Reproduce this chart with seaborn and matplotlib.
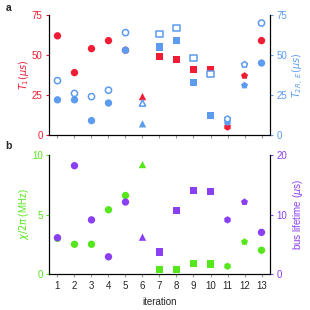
import numpy as np
import pandas as pd
import matplotlib
matplotlib.use("Agg")
import matplotlib.pyplot as plt
import seaborn as sns

iterations = list(range(1, 14))
shapes = ['o', 'o', 'o', 'o', 'o', '^', 's', 's', 's', 's', 'h', 'p', 'o']

t1 = [62, 39, 54, 59, 53, 24, 49, 47, 41, 41, 5, 37, 59]
t2r = [22, 22, 9, 20, 53, 7, 55, 59, 33, 12, 8, 31, 45]
t2e = [34, 26, 24, 28, 64, 20, 63, 67, 48, 38, 10, 44, 70]

chi = [3.0, 2.5, 2.5, 5.4, 6.6, 9.2, 0.4, 0.4, 0.9, 0.85, 0.65, 2.7, 2.0]
bus = [6.1, 18.2, 9.1, 2.9, 12.1, 6.2, 3.7, 10.7, 14.0, 13.9, 9.1, 12.1, 7.0]

RED = '#f01c34'
BLUE = '#5c9bef'
GREEN = '#55e61c'
PURPLE = '#8b3ff2'

df = pd.DataFrame({'iteration': iterations, 'shape': shapes,
                   't1': t1, 't2r': t2r, 't2e': t2e, 'chi': chi, 'bus': bus})
marker_map = {m: m for m in set(shapes)}

sns.set_style('white')
plt.rcParams['font.family'] = ['Liberation Sans', 'DejaVu Sans']
plt.rcParams['mathtext.fontset'] = 'dejavusans'
plt.rcParams['font.size'] = 7

fig = plt.figure(figsize=(3.1, 3.1), dpi=100)
ax1 = fig.add_axes([0.158, 0.5645, 0.713, 0.387])
ax2 = fig.add_axes([0.158, 0.116, 0.713, 0.384])


def style_axes(ax, axr, lcol, rcol, ylim_l, ylim_r, lticks, rticks):
    ax.set_xlim(0.5, 13.5)
    ax.set_ylim(*ylim_l)
    axr.set_ylim(*ylim_r)
    ax.set_xticks(iterations)
    ax.set_yticks(lticks)
    axr.set_yticks(rticks)
    for a in (ax, axr):
        a.spines['top'].set_visible(False)
        for s in ('left', 'right', 'bottom'):
            a.spines[s].set_color('black')
            a.spines[s].set_linewidth(0.8)
    ax.tick_params(axis='y', colors=lcol, length=2.5, width=0.8, direction='out', left=True, pad=2)
    axr.tick_params(axis='y', colors=rcol, length=2.5, width=0.8, direction='out', right=True, pad=2)
    ax.tick_params(axis='x', length=2.5, width=0.8, bottom=True, direction='out', pad=2.5,
                   color='#999999')


kw = dict(s=28, linewidth=0, legend=False)

# panel a
sns.scatterplot(data=df, x='iteration', y='t1', style='shape', markers=marker_map,
                color=RED, ax=ax1, zorder=3, **kw)
ax1r = ax1.twinx()
sns.scatterplot(data=df, x='iteration', y='t2r', style='shape', markers=marker_map,
                color=BLUE, ax=ax1r, zorder=3, **kw)
sns.scatterplot(data=df, x='iteration', y='t2e', style='shape', markers=marker_map,
                facecolor='white', edgecolor=BLUE, s=20, linewidth=1.1, legend=False,
                ax=ax1r, zorder=3)
style_axes(ax1, ax1r, RED, BLUE, (0, 75), (0, 75), [0, 25, 50, 75], [0, 25, 50, 75])
ax1.set_xticklabels([])
ax1.set_xlabel('')
ax1.set_ylabel(r'$T_1 (\mu s)$', color=RED, labelpad=1)
ax1r.set_ylabel(r'$T_{2R,\ E} (\mu s)$', color=BLUE, labelpad=3)

# panel b
sns.scatterplot(data=df, x='iteration', y='chi', style='shape', markers=marker_map,
                color=GREEN, ax=ax2, zorder=3, **kw)
ax2r = ax2.twinx()
sns.scatterplot(data=df, x='iteration', y='bus', style='shape', markers=marker_map,
                color=PURPLE, ax=ax2r, zorder=3, **kw)
style_axes(ax2, ax2r, GREEN, PURPLE, (0, 10), (0, 20), [0, 5, 10], [0, 10, 20])
ax2.set_xlabel('iteration', labelpad=4)
ax2.set_ylabel(r'$\chi/2\pi$ (MHz)', color=GREEN, labelpad=1)
ax2r.set_ylabel(r'bus lifetime ($\mu$s)', color=PURPLE, labelpad=3)

fig.text(0.018, 0.965, 'a', fontweight='bold', fontsize=7.5)
fig.text(0.018, 0.518, 'b', fontweight='bold', fontsize=7.5)

fig.savefig('out.png', dpi=100)
